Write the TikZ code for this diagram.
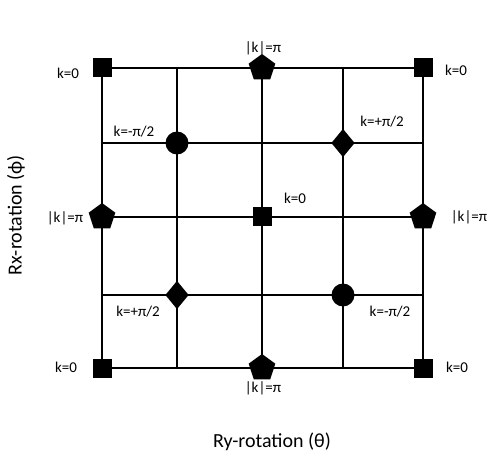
\documentclass[tikz,border=0pt]{standalone}
\usepackage{fontspec}
\setmainfont{Carlito}
\usetikzlibrary{shapes.geometric}
\tikzset{
  sqmark/.style={rectangle, fill=black, minimum size=19pt, inner sep=0pt},
  dotmark/.style={circle, fill=black, minimum size=23pt, inner sep=0pt},
  diamark/.style={diamond, fill=black, minimum width=24pt, minimum height=29pt, inner sep=0pt},
  pentmark/.style={regular polygon, regular polygon sides=5, fill=black, minimum size=28pt, inner sep=0pt},
  klab/.style={font=\fontsize{15}{17}\selectfont, inner sep=0pt},
  axlab/.style={font=\fontsize{20}{24}\selectfont, inner sep=0pt},
}
\begin{document}
\begin{tikzpicture}[x=1pt, y=1pt, line width=2pt]
\useasboundingbox (0,0) rectangle (498,469);
% grid points g<col><row>, row 1 on top
\foreach \i/\xx in {1/102, 2/177, 3/262, 4/343, 5/423}
  \foreach \j/\yy in {1/401, 2/326, 3/252, 4/174, 5/101}
    \coordinate (g\i\j) at (\xx,\yy);

% grid lines FIRST (so markers stay on top)
\foreach \k in {1,...,5} {
  \draw (g1\k) -- (g5\k) ;
  \draw (g\k1) -- (g\k5) ;
}

% markers
\node (m11)[sqmark] at (g11) {} ;
\node (m31)[pentmark] at (g31) {} ;
\node (m51)[sqmark] at (g51) {} ;
\node (m22)[dotmark] at (g22) {} ;
\node (m42)[diamark] at (g42) {} ;
\node (m13)[pentmark] at (g13) {} ;
\node (m33)[sqmark] at (g33) {} ;
\node (m53)[pentmark] at (g53) {} ;
\node (m24)[diamark] at (g24) {} ;
\node (m44)[dotmark] at (g44) {} ;
\node (m15)[sqmark] at (g15) {} ;
\node (m35)[pentmark] at (g35) {} ;
\node (m55)[sqmark] at (g55) {} ;

% k labels
\node (l11)[klab] at (68, 396) {k=0} ;
\node (l31)[klab] at (263, 421) {|k|=π} ;
\node (l51)[klab] at (456, 399) {k=0} ;
\node (l22)[klab] at (134, 337) {k=-π/2} ;
\node (l42)[klab] at (382, 347) {k=+π/2} ;
\node (l13)[klab] at (65, 251) {|k|=π} ;
\node (l33)[klab] at (295, 271) {k=0} ;
\node (l53)[klab] at (469, 252) {|k|=π} ;
\node (l24)[klab] at (138, 157) {k=+π/2} ;
\node (l44)[klab] at (390, 157) {k=-π/2} ;
\node (l15)[klab] at (66, 102) {k=0} ;
\node (l35)[klab] at (263, 81) {|k|=π} ;
\node (l55)[klab] at (457, 102) {k=0} ;

% axes
\node (ry)[axlab] at (272, 27) {Ry-rotation (θ)} ;
\node (rx)[axlab, rotate=90] at (16, 254) {Rx-rotation (ϕ)} ;
\end{tikzpicture}
\end{document}
